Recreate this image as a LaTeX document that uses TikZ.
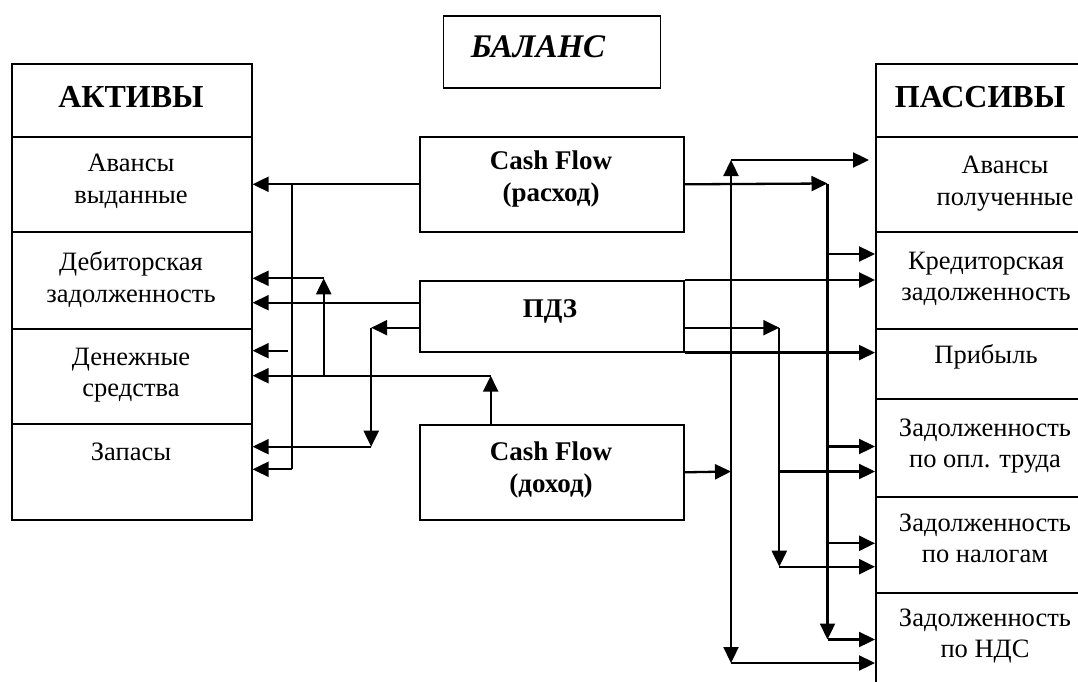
\documentclass[tikz,border=0pt]{standalone}
\usepackage{fontspec}
\setmainfont{Liberation Serif}
\usetikzlibrary{arrows.meta,calc}
\begin{document}
\begin{tikzpicture}[x=1pt,y=-1pt,
  cell/.style={draw,line width=1.6pt,inner sep=0pt,anchor=north west},
  txt/.style={inner sep=0pt,align=center,font=\fontsize{26.5}{31.5}\selectfont},
  btxt/.style={inner sep=0pt,align=center,font=\fontsize{27}{32}\selectfont\bfseries},
  hdr/.style={inner sep=0pt,font=\fontsize{32}{34}\selectfont\bfseries},
  conn/.style={line width=2.3pt},
  arr/.style={conn,-{Triangle[length=16pt,width=15pt]}}]
\useasboundingbox (0,0) rectangle (1078,682);
\clip (0,0) rectangle (1078,682);
\fill[white] (0,0) rectangle (1078,682);

% title
\node[cell,minimum width=217pt,minimum height=72pt] (bal) at (442.5,15) {};
\node[hdr,font=\fontsize{33}{34}\selectfont\bfseries\itshape,anchor=base] (tbal) at (538,58) {БАЛАНС};

% assets column
\node[cell,minimum width=240pt,minimum height=73pt] (a0) at (11,63) {};
\node[cell,minimum width=240pt,minimum height=95pt] (a1) at (11,136) {};
\node[cell,minimum width=240pt,minimum height=97pt] (a2) at (11,231) {};
\node[cell,minimum width=240pt,minimum height=95pt] (a3) at (11,328) {};
\node[cell,minimum width=240pt,minimum height=96pt] (a4) at (11,423) {};
\node[hdr,anchor=base] (ta0) at (131,107) {АКТИВЫ};
\node[txt,anchor=north] (ta1) at (131,154) {Авансы\\выданные};
\node[txt,anchor=north] (ta2) at (131,251.5) {Дебиторская\\задолженность};
\node[txt,anchor=north] (ta3) at (131,347.5) {Денежные\\средства};
\node[txt,anchor=base] (ta4) at (131,460) {Запасы};

% liabilities column
\node[cell,minimum width=240pt,minimum height=73pt] (p0) at (875,63) {};
\node[cell,minimum width=240pt,minimum height=95pt] (p1) at (875,136) {};
\node[cell,minimum width=240pt,minimum height=97pt] (p2) at (875,231) {};
\node[cell,minimum width=240pt,minimum height=70pt] (p3) at (875,328) {};
\node[cell,minimum width=240pt,minimum height=98pt] (p4) at (875,398) {};
\node[cell,minimum width=240pt,minimum height=96pt] (p5) at (875,496) {};
\node[cell,minimum width=240pt,minimum height=120pt] (p6) at (875,592) {};
\node[hdr,anchor=base] (tp0) at (980,107) {ПАССИВЫ};
\node[txt,anchor=north] (tp1) at (1005,156) {Авансы\\полученные};
\node[txt,anchor=north] (tp2) at (986,251.5) {Кредиторская\\задолженность};
\node[txt,anchor=base] (tp3) at (986,363) {Прибыль};
\node[txt,anchor=north] (tp4) at (985,418.5) {Задолженность\\по опл. труда};
\node[txt,anchor=north] (tp5) at (985,513.5) {Задолженность\\по налогам};
\node[txt,anchor=north] (tp6) at (985,608.5) {Задолженность\\по НДС};

% middle boxes
\node[cell,minimum width=264pt,minimum height=95pt] (cfr) at (419,136) {};
\node[btxt,anchor=north] (tcfr) at (551,150.5) {Cash Flow\\(расход)};
\node[cell,minimum width=264pt,minimum height=71pt] (pdz) at (419,280) {};
\node[btxt,anchor=base] (tpdz) at (550,317) {ПДЗ};
\node[cell,minimum width=264pt,minimum height=95pt] (cfd) at (419,424) {};
\node[btxt,anchor=north] (tcfd) at (551,441.5) {Cash Flow\\(доход)};

% ---- left connectors
\coordinate (L1) at (292,183.5);
\coordinate (L1b) at (288,350.7);
\coordinate (L1c) at (292,469.3);
\draw[arr] (cfr.west) -- (a1.east |- cfr.west);
\draw[conn] (L1) -- (L1c);
\draw[arr] (L1b) -- (a3.east |- L1b);
\draw[arr] (L1c) -- (a4.east |- L1c);

\coordinate (Y1) at (0,302.7);
\draw[arr] (pdz.west |- Y1) -- (a2.east |- Y1);

\coordinate (L3) at (371.2,327.7);
\coordinate (L3b) at (371.2,446.7);
\draw[arr] (pdz.west |- L3) -- (L3);
\draw[arr] (L3) -- (L3b);
\draw[arr] (L3b) -- (a4.east |- L3b);

\coordinate (L4) at (490.7,375.7);
\draw[arr] (cfd.north -| L4) -- (L4);
\draw[arr] (L4) -- (a3.east |- L4);

\coordinate (L2) at (323.7,375.7);
\coordinate (L2t) at (323.7,278.3);
\draw[arr] (L2) -- (L2t);
\draw[arr] (L2t) -- (a2.east |- L2t);

% ---- right connectors
\coordinate (R3) at (827.5,183.5);
\coordinate (R3a) at (827.5,254);
\coordinate (R3b) at (827.5,446.5);
\coordinate (R3c) at (827.5,543.3);
\coordinate (R3e) at (827.5,639.5);
\draw[arr] (cfr.east) -- (R3);
\draw[arr] (R3) -- (R3e);
\draw[arr] (R3a) -- (p2.west |- R3a);
\draw[arr] (R3b) -- (p4.west |- R3b);
\draw[arr] (R3c) -- (p5.west |- R3c);
\draw[arr] (R3e) -- (p6.west |- R3e);

\draw[arr] (pdz.north east) -- (p2.west |- pdz.north east);
\draw[arr] (pdz.south east) -- (p3.west |- pdz.south east);

\coordinate (R2) at (779.3,327.7);
\coordinate (R2e) at (779.3,566.7);
\coordinate (R2a) at (779.3,471.5);
\draw[arr] (pdz.east |- R2) -- (R2);
\draw[arr] (R2) -- (R2e);
\draw[arr] (R2a) -- (p4.west |- R2a);
\draw[arr] (R2e) -- (p5.west |- R2e);

\coordinate (R1) at (731,471.5);
\coordinate (R1t) at (731,160);
\coordinate (R1b) at (731,663);
\draw[arr] (cfd.east) -- (R1);
\draw[arr] (R1) -- (R1t);
\draw[arr] (R1) -- (R1b);
\draw[arr] (R1t) -- ($(p1.west |- R1t)+(-6,0)$);
\draw[arr] (R1b) -- (p6.west |- R1b);
\end{tikzpicture}
\end{document}
